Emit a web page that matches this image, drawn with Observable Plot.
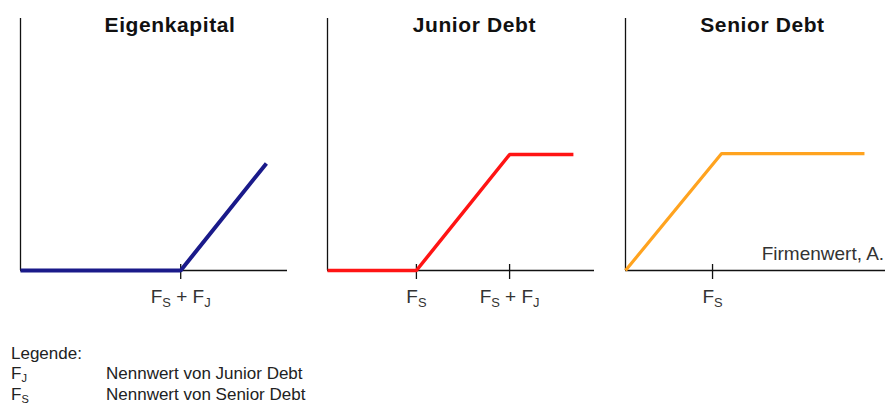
<!DOCTYPE html>
<html>
<head>
<meta charset="utf-8">
<script src="https://cdn.jsdelivr.net/npm/d3@7"></script>
<script src="https://cdn.jsdelivr.net/npm/@observablehq/plot@0.6"></script>
<style>
  html, body { margin: 0; padding: 0; background: #fff; overflow: hidden; }
  #wrap { position: relative; width: 885px; height: 403px; overflow: hidden; font-family: "Liberation Sans", Arial, sans-serif; }
  .panel { position: absolute; top: 0; width: 300px; height: 320px; }
  .panel svg { max-width: none !important; }
  #legend { position: absolute; left: 11px; top: 344px; font-size: 17px; line-height: 20px; color: #222; }
  #legend .row { white-space: nowrap; }
  #legend .sym { display: inline-block; width: 95px; }
  #legend .sub { font-size: 11px; position: relative; top: 3px; }
</style>
</head>
<body>
<div id="wrap">
  <div id="p1" class="panel" style="left:0px"></div>
  <div id="p2" class="panel" style="left:307px"></div>
  <div id="p3" class="panel" style="left:605px"></div>
  <div id="legend"></div>
</div>
<script>
// ---- Data ----
const titles = ["Eigenkapital", "Junior Debt", "Senior Debt"];
const titleX = [5.6, 5.5, 5.13];

// Eigenkapital payoff
const eqX = [0, 6.0, 9.21];
const eqY = [0, 0, 4.25];
// Junior Debt payoff
const jrX = [0, 3.33, 6.82, 9.21];
const jrY = [0, 0, 4.6, 4.6];
// Senior Debt payoff
const srX = [0, 3.6, 8.95];
const srY = [0, 4.64, 4.64];

// Tick positions & labels
const eqTicks = [6.0];
const eqTickLabels = ["F_S + F_J"];
const jrTicks = [3.33, 6.82];
const jrTickLabels = ["F_S", "F_S + F_J"];
const srTicks = [3.26];
const srTickLabels = ["F_S"];

// Axis caption
const axisCaption = "Firmenwert, A.";
const axisCaptionX = 5.1;

// Legend
const legendTitle = "Legende:";
const legendSymbols = ["F_J", "F_S"];
const legendTexts = ["Nennwert von Junior Debt", "Nennwert von Senior Debt"];

// ---- Helpers ----
function subscriptify(svg, fs) {
  svg.querySelectorAll("text").forEach(t => {
    const s = t.textContent;
    if (!s.includes("_")) return;
    const parts = s.split(/_(.)/);
    t.textContent = "";
    const ns = "http://www.w3.org/2000/svg";
    let prevSub = false;
    parts.forEach((p, i) => {
      if (p === "" && i % 2 === 0) return;
      const ts = document.createElementNS(ns, "tspan");
      ts.textContent = p;
      if (i % 2 === 1) {
        ts.setAttribute("font-size", (fs * 0.68).toFixed(1));
        ts.setAttribute("dy", (fs * 0.25).toFixed(1));
        prevSub = true;
      } else {
        if (prevSub) ts.setAttribute("dy", (-fs * 0.25).toFixed(1));
        prevSub = false;
      }
      t.appendChild(ts);
    });
  });
}

function panel({title, tx, xs, ys, color, lw, ticks, tickLabels, extra = []}) {
  const data = xs.map((x, i) => ({x, y: ys[i]}));
  const svg = Plot.plot({
    width: 300, height: 320,
    marginLeft: 20, marginRight: 13, marginTop: 18, marginBottom: 50,
    x: {domain: [0, 10], axis: null},
    y: {domain: [0, 10], axis: null},
    style: {fontFamily: "'Liberation Sans', Arial, sans-serif", background: "transparent", overflow: "visible", maxWidth: "none"},
    marks: [
      Plot.ruleX([0], {x: d => d, stroke: "#111", strokeWidth: 1.3}),
      Plot.ruleY([0], {y: d => d, stroke: "#111", strokeWidth: 1.3}),
      Plot.ruleX(ticks, {x: d => d, y1: () => 0, y2: () => 0, insetTop: -6, insetBottom: -9, stroke: "#111", strokeWidth: 1.3}),
      Plot.line(data, {x: "x", y: "y", stroke: color, strokeWidth: lw, strokeLinecap: "butt", strokeLinejoin: "miter"}),
      Plot.text(ticks, {x: d => d, y: () => 0, text: (d, i) => tickLabels[i], dy: 26, fontSize: 19, fill: "#333", lineAnchor: "middle"}),
      Plot.text([title], {x: () => tx, frameAnchor: "top", lineAnchor: "top", fontSize: 21, fontWeight: "bold", fill: "#111", dy: -1}),
      ...extra
    ]
  });
  subscriptify(svg, 19);
  svg.querySelectorAll("text").forEach(t => { if (t.textContent === title) t.setAttribute("letter-spacing", "0.6"); });
  return svg;
}

document.getElementById("p1").appendChild(panel({
  title: titles[0], tx: titleX[0], xs: eqX, ys: eqY, color: "#1a1a8a", lw: 4,
  ticks: eqTicks, tickLabels: eqTickLabels
}));
document.getElementById("p2").appendChild(panel({
  title: titles[1], tx: titleX[1], xs: jrX, ys: jrY, color: "#ff1414", lw: 3.5,
  ticks: jrTicks, tickLabels: jrTickLabels
}));
document.getElementById("p3").appendChild(panel({
  title: titles[2], tx: titleX[2], xs: srX, ys: srY, color: "#ffa31f", lw: 3.2,
  ticks: srTicks, tickLabels: srTickLabels,
  extra: [Plot.text([axisCaption], {x: () => axisCaptionX, y: () => 0, dy: -17, textAnchor: "start", lineAnchor: "middle", fontSize: 19, fill: "#333"})]
}));

// Legend
const leg = document.getElementById("legend");
const fmt = s => s.replace(/_(.)/g, '<span class="sub">$1</span>');
leg.innerHTML = `<div class="row">${legendTitle}</div>` +
  legendSymbols.map((s, i) => `<div class="row"><span class="sym">${fmt(s)}</span>${legendTexts[i]}</div>`).join("");
</script>
</body>
</html>
